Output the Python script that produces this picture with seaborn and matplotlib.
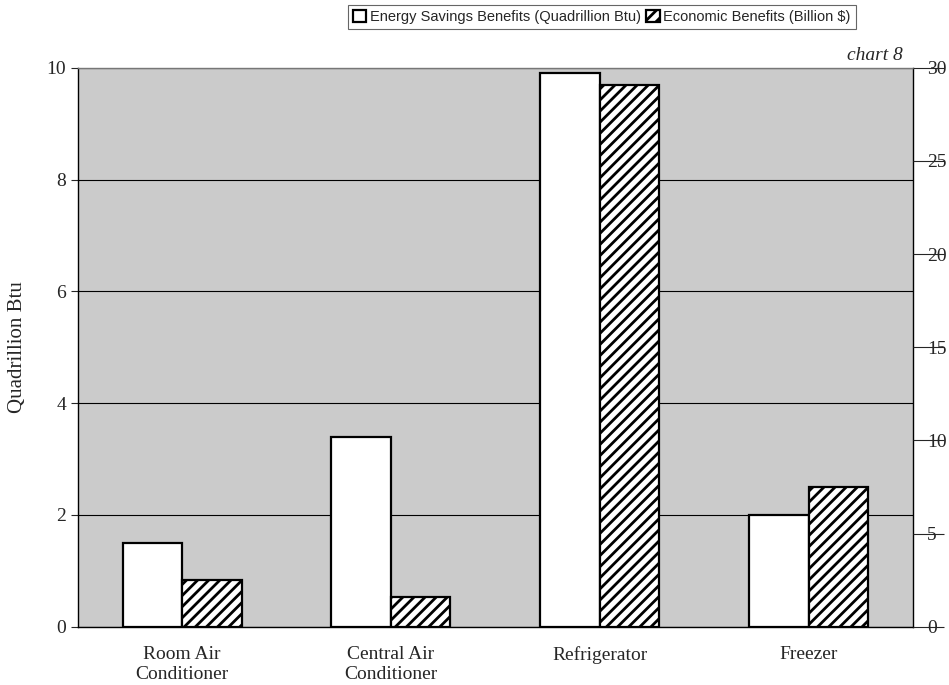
import matplotlib
matplotlib.use("Agg")
import matplotlib.pyplot as plt
import pandas as pd
import seaborn as sns

categories = ["Room Air\nConditioner", "Central Air\nConditioner", "Refrigerator", "Freezer"]
energy_quads = [1.5, 3.4, 9.9, 2.0]
economic_billions = [2.5, 1.6, 29.1, 7.5]
series_names = ["Energy Savings Benefits (Quadrillion Btu)", "Economic Benefits (Billion $)"]
left_ticks = [0, 2, 4, 6, 8, 10]
right_ticks = [0, 5, 10, 15, 20, 25, 30]

# right axis (0-30 billion $) spans the same height as the left one (0-10 quads)
RIGHT_PER_LEFT = 3

df = pd.DataFrame({
    "category": categories * 2,
    "series": [series_names[0]] * 4 + [series_names[1]] * 4,
    "value": energy_quads + [v / RIGHT_PER_LEFT for v in economic_billions],
})

sns.set_style("white")
plt.rcParams["font.family"] = ["Liberation Serif", "DejaVu Serif"]
plt.rcParams["hatch.linewidth"] = 2.0

fig, ax = plt.subplots(figsize=(9.49, 6.85), dpi=100)
fig.subplots_adjust(left=0.082, right=0.962, bottom=0.085, top=0.901)

sns.barplot(data=df, x="category", y="value", hue="series", order=categories,
            hue_order=series_names, palette=["white", "white"], saturation=1,
            width=0.57, edgecolor="black", linewidth=1.6, legend=False, ax=ax)

for bar in ax.containers[1]:
    bar.set_hatch("///")
    bar.set_facecolor("white")
    bar.set_edgecolor("black")

ax.set_xlim(-0.5, 3.5)
ax.set_ylim(0, 10)
ax.set_yticks(left_ticks)
ax.set_facecolor("#cbcbcb")
ax.yaxis.grid(True, color="black", linewidth=0.8)
ax.set_axisbelow(True)
ax.set_xlabel("")
ax.set_ylabel("Quadrillion Btu", fontsize=15, labelpad=14)
ax.tick_params(axis="x", length=0, labelsize=14, pad=14)
ax.tick_params(axis="y", direction="out", length=5, labelsize=14, left=True)
for s in ax.spines.values():
    s.set_color("black")
    s.set_linewidth(1.0)
ax.spines["top"].set_color("#777777")

ax2 = ax.twinx()
ax2.set_ylim(0, 10 * RIGHT_PER_LEFT)
ax2.set_yticks(right_ticks)
ax2.tick_params(axis="y", direction="out", length=22, width=0.8, pad=-12, labelsize=14, right=True)
for s in ax2.spines.values():
    s.set_visible(False)

ax.text(0.988, 1.006, "chart 8", transform=ax.transAxes, ha="right", va="bottom",
        fontsize=14, style="italic")

handles = [ax.containers[0][0], ax.containers[1][0]]
leg = fig.legend(handles, series_names, loc="upper center", bbox_to_anchor=(0.634, 0.993),
                 ncol=2, frameon=True, fancybox=False, edgecolor="#666666", framealpha=1,
                 handlelength=0.9, handleheight=0.9, handletextpad=0.25, columnspacing=0.4,
                 borderpad=0.35, borderaxespad=0,
                 prop={"family": ["Liberation Sans", "DejaVu Sans"], "size": 10.5})
leg.get_frame().set_linewidth(0.8)

fig.savefig("out.png", dpi=100)
